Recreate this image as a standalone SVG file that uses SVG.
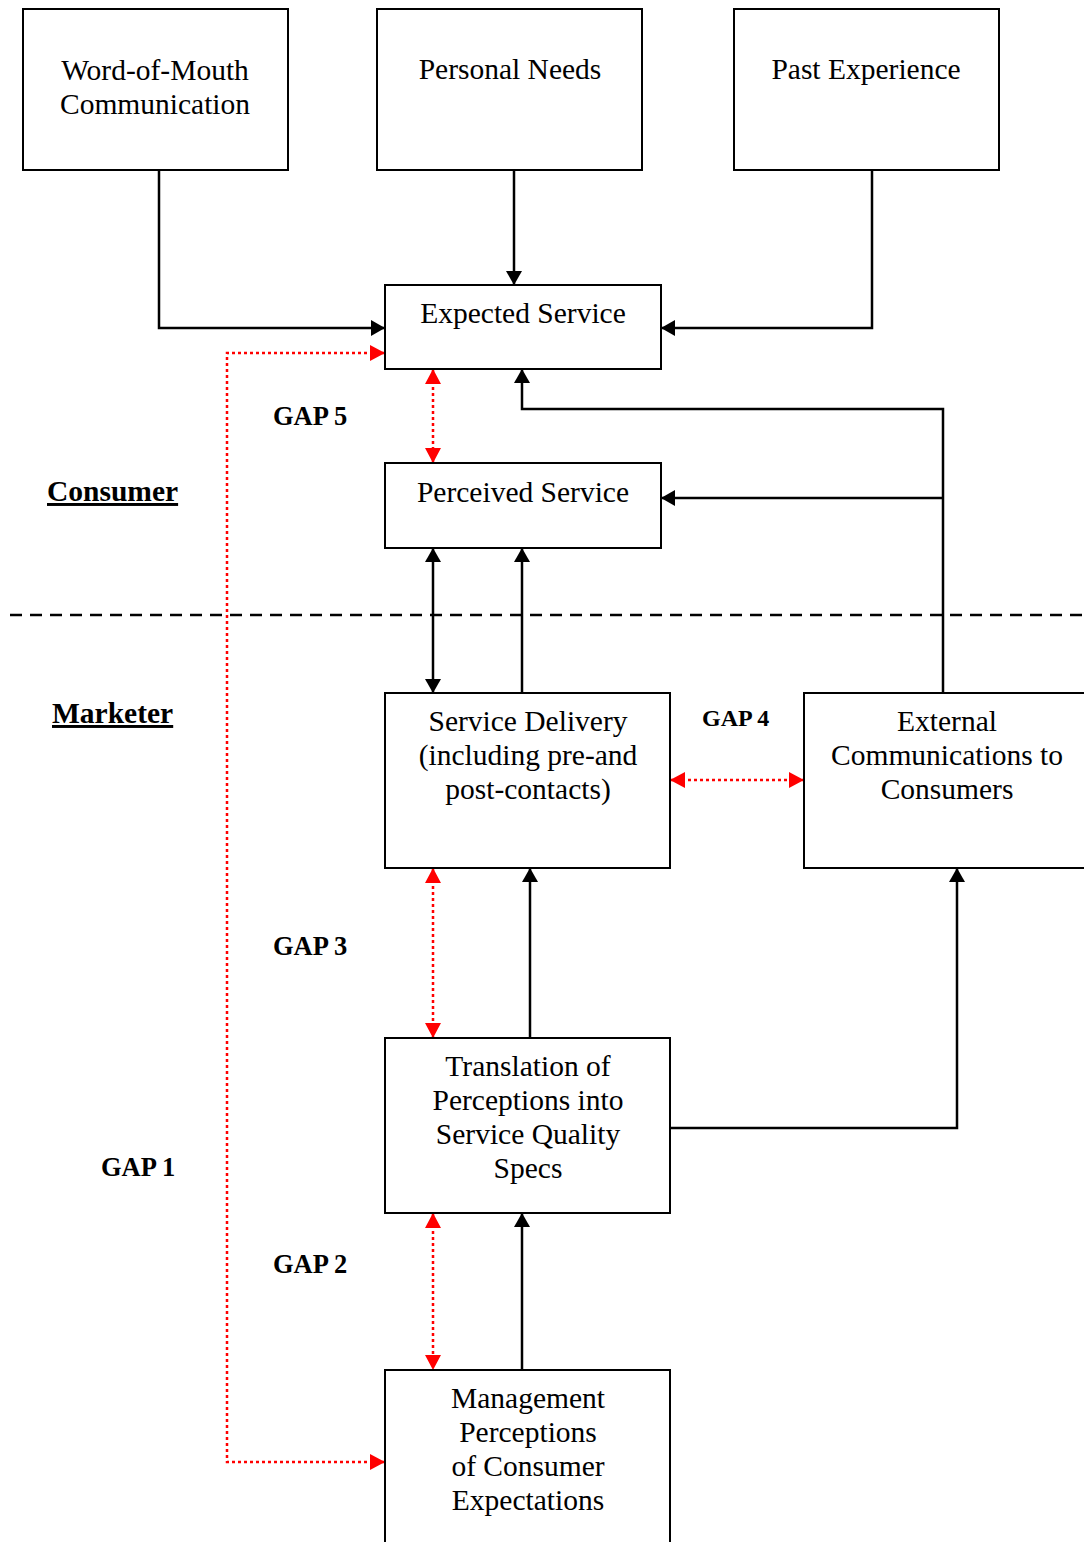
<svg xmlns="http://www.w3.org/2000/svg" width="1084" height="1542" viewBox="0 0 1084 1542">
<style>
.box{fill:#fff;stroke:#000;stroke-width:2}
.t{font-family:"Liberation Serif","Times New Roman",serif;font-size:29.5px;text-anchor:middle;fill:#000}
.g{font-family:"Liberation Serif","Times New Roman",serif;font-size:26.5px;font-weight:bold;fill:#000}
.h{font-family:"Liberation Serif","Times New Roman",serif;font-size:29.5px;font-weight:bold;text-decoration:underline;fill:#000}
.c{fill:none;stroke:#000;stroke-width:2.5}
.r{fill:none;stroke:#f00;stroke-width:2.5;stroke-dasharray:3 3}
</style>
<defs>
<marker id="ab" viewBox="0 0 14 16" refX="14" refY="8" markerWidth="14" markerHeight="16" markerUnits="userSpaceOnUse" orient="auto-start-reverse"><path d="M0,0 L14,8 L0,16 Z" fill="#000"/></marker>
<marker id="ar" viewBox="0 0 15 16" refX="15" refY="8" markerWidth="15" markerHeight="16" markerUnits="userSpaceOnUse" orient="auto-start-reverse"><path d="M0,0 L15,8 L0,16 Z" fill="#f00"/></marker>
</defs>
<g id="connectors">
<line x1="10" y1="615" x2="1084" y2="615" stroke="#000" stroke-width="2.5" stroke-dasharray="12 8"/>
<polyline class="c" points="159,170 159,328 385,328" marker-end="url(#ab)"/>
<line class="c" x1="514" y1="170" x2="514" y2="285" marker-end="url(#ab)"/>
<polyline class="c" points="872,170 872,328 661,328" marker-end="url(#ab)"/>
<polyline class="c" points="943,693 943,409 522,409 522,369" marker-end="url(#ab)"/>
<line class="c" x1="943" y1="498" x2="661" y2="498" marker-end="url(#ab)"/>
<line class="c" x1="433" y1="548" x2="433" y2="693" marker-start="url(#ab)" marker-end="url(#ab)"/>
<line class="c" x1="522" y1="693" x2="522" y2="548" marker-end="url(#ab)"/>
<line class="c" x1="530" y1="1038" x2="530" y2="868" marker-end="url(#ab)"/>
<polyline class="c" points="670,1128 957,1128 957,868" marker-end="url(#ab)"/>
<line class="c" x1="522" y1="1370" x2="522" y2="1213" marker-end="url(#ab)"/>
<polyline class="r" points="385,1462 227,1462 227,353 385,353" marker-start="url(#ar)" marker-end="url(#ar)"/>
<line class="r" x1="433" y1="369" x2="433" y2="463" marker-start="url(#ar)" marker-end="url(#ar)"/>
<line class="r" x1="670" y1="780" x2="804" y2="780" marker-start="url(#ar)" marker-end="url(#ar)"/>
<line class="r" x1="433" y1="868" x2="433" y2="1038" marker-start="url(#ar)" marker-end="url(#ar)"/>
<line class="r" x1="433" y1="1213" x2="433" y2="1370" marker-start="url(#ar)" marker-end="url(#ar)"/>
</g>
<g id="wom"><rect class="box" x="23" y="9" width="265" height="161"/><text class="t" x="155" y="80">Word-of-Mouth</text><text class="t" x="155" y="114">Communication</text></g>
<g id="needs"><rect class="box" x="377" y="9" width="265" height="161"/><text class="t" x="510" y="79">Personal Needs</text></g>
<g id="past"><rect class="box" x="734" y="9" width="265" height="161"/><text class="t" x="866" y="79">Past Experience</text></g>
<g id="expected"><rect class="box" x="385" y="285" width="276" height="84"/><text class="t" x="523" y="323">Expected Service</text></g>
<g id="perceived"><rect class="box" x="385" y="463" width="276" height="85"/><text class="t" x="523" y="502">Perceived Service</text></g>
<g id="delivery"><rect class="box" x="385" y="693" width="285" height="175"/><text class="t" x="528" y="731">Service Delivery</text><text class="t" x="528" y="765">(including pre-and</text><text class="t" x="528" y="799">post-contacts)</text></g>
<g id="external"><rect class="box" x="804" y="693" width="290" height="175"/><text class="t" x="947" y="731">External</text><text class="t" x="947" y="765">Communications to</text><text class="t" x="947" y="799">Consumers</text></g>
<g id="translation"><rect class="box" x="385" y="1038" width="285" height="175"/><text class="t" x="528" y="1076">Translation of</text><text class="t" x="528" y="1110">Perceptions into</text><text class="t" x="528" y="1144">Service Quality</text><text class="t" x="528" y="1178">Specs</text></g>
<g id="management"><rect class="box" x="385" y="1370" width="285" height="182"/><text class="t" x="528" y="1408">Management</text><text class="t" x="528" y="1442">Perceptions</text><text class="t" x="528" y="1476">of Consumer</text><text class="t" x="528" y="1510">Expectations</text></g>
<g id="labels">
<text class="h" x="47" y="501">Consumer</text>
<text class="h" x="52" y="723">Marketer</text>
<text class="g" x="273" y="425">GAP 5</text>
<text class="g" x="702" y="726" style="font-size:24px">GAP 4</text>
<text class="g" x="273" y="955">GAP 3</text>
<text class="g" x="101" y="1176">GAP 1</text>
<text class="g" x="273" y="1273">GAP 2</text>
</g>
</svg>
